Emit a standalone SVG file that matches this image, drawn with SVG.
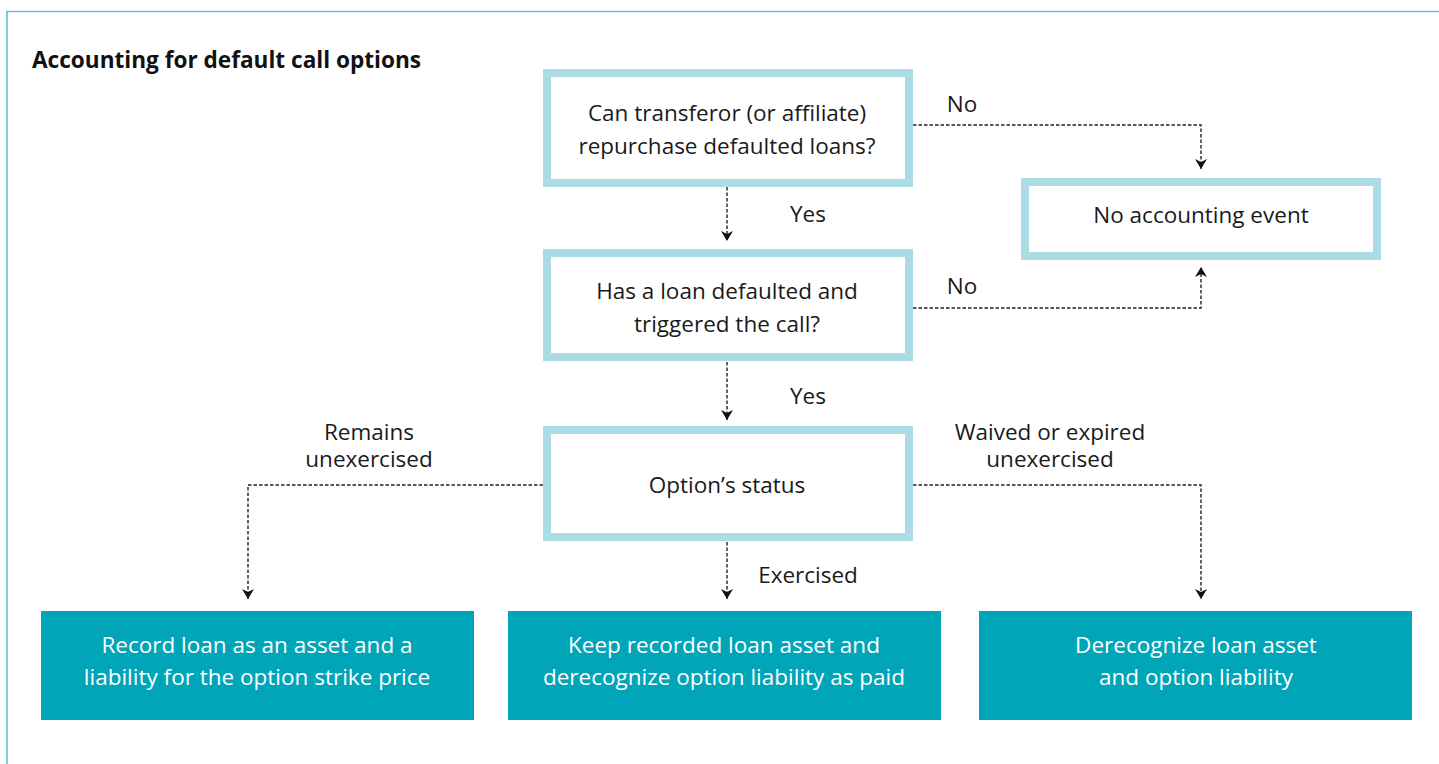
<svg xmlns="http://www.w3.org/2000/svg" width="1439" height="764" viewBox="0 0 1439 764">
<defs>
<style>
.q{fill:#fff;stroke:#acdce3;stroke-width:8}
.r{fill:#00a5b8}
.t{font-family:"Open Sans","Noto Sans",sans-serif;font-size:22.5px;fill:#1a1a1a;text-anchor:middle}
.w{font-family:"Open Sans","Noto Sans",sans-serif;font-size:22.5px;fill:#fff;text-anchor:middle}
.c{fill:none;stroke:#222;stroke-width:1.4;stroke-dasharray:3.5 2}
</style>
<marker id="ah" viewBox="0 0 10 12" refX="10" refY="6" markerWidth="12" markerHeight="12" markerUnits="userSpaceOnUse" orient="auto">
<path d="M0,0 L10,6 L0,12 L3,6 Z" fill="#111"/>
</marker>
</defs>
<rect width="1439" height="764" fill="#fff"/>
<path d="M7,764 V11.5 H1439" fill="none" stroke="#5bc2cf" stroke-width="1.6"/>
<text x="32" y="68" font-family="'Open Sans','Noto Sans',sans-serif" font-size="22.6" font-weight="bold" fill="#111">Accounting for default call options</text>

<g id="connectors">
<path class="c" d="M913,125 H1201 V169" marker-end="url(#ah)"/>
<path class="c" d="M727,187 V241" marker-end="url(#ah)"/>
<path class="c" d="M913,308 H1201 V267" marker-end="url(#ah)"/>
<path class="c" d="M727,362 V420" marker-end="url(#ah)"/>
<path class="c" d="M543,485 H248 V599" marker-end="url(#ah)"/>
<path class="c" d="M913,485 H1201 V599" marker-end="url(#ah)"/>
<path class="c" d="M727,542 V599" marker-end="url(#ah)"/>
<text class="t" x="962" y="112">No</text>
<text class="t" x="808" y="222">Yes</text>
<text class="t" x="962" y="294">No</text>
<text class="t" x="808" y="404">Yes</text>
<text class="t" x="369" y="440"><tspan x="369">Remains</tspan><tspan x="369" dy="26.5">unexercised</tspan></text>
<text class="t" x="1050" y="440"><tspan x="1050">Waived or expired</tspan><tspan x="1050" dy="26.5">unexercised</tspan></text>
<text class="t" x="808" y="583">Exercised</text>
</g>

<g id="q1">
<rect class="q" x="547" y="73" width="362" height="110"/>
<text class="t" x="727" y="121">Can transferor (or affiliate)</text>
<text class="t" x="727" y="154">repurchase defaulted loans?</text>
</g>
<g id="noevent">
<rect class="q" x="1025" y="182" width="352" height="74"/>
<text class="t" x="1201" y="223">No accounting event</text>
</g>
<g id="q2">
<rect class="q" x="547" y="253" width="362" height="104"/>
<text class="t" x="727" y="299">Has a loan defaulted and</text>
<text class="t" x="727" y="332">triggered the call?</text>
</g>
<g id="q3">
<rect class="q" x="547" y="430" width="362" height="107"/>
<text class="t" x="727" y="493">Option’s status</text>
</g>
<g id="r1">
<rect class="r" x="41" y="611" width="433" height="109"/>
<text class="w" x="257" y="653">Record loan as an asset and a</text>
<text class="w" x="257" y="685">liability for the option strike price</text>
</g>
<g id="r2">
<rect class="r" x="508" y="611" width="433" height="109"/>
<text class="w" x="724" y="653">Keep recorded loan asset and</text>
<text class="w" x="724" y="685">derecognize option liability as paid</text>
</g>
<g id="r3">
<rect class="r" x="979" y="611" width="433" height="109"/>
<text class="w" x="1196" y="653">Derecognize loan asset</text>
<text class="w" x="1196" y="685">and option liability</text>
</g>
</svg>
